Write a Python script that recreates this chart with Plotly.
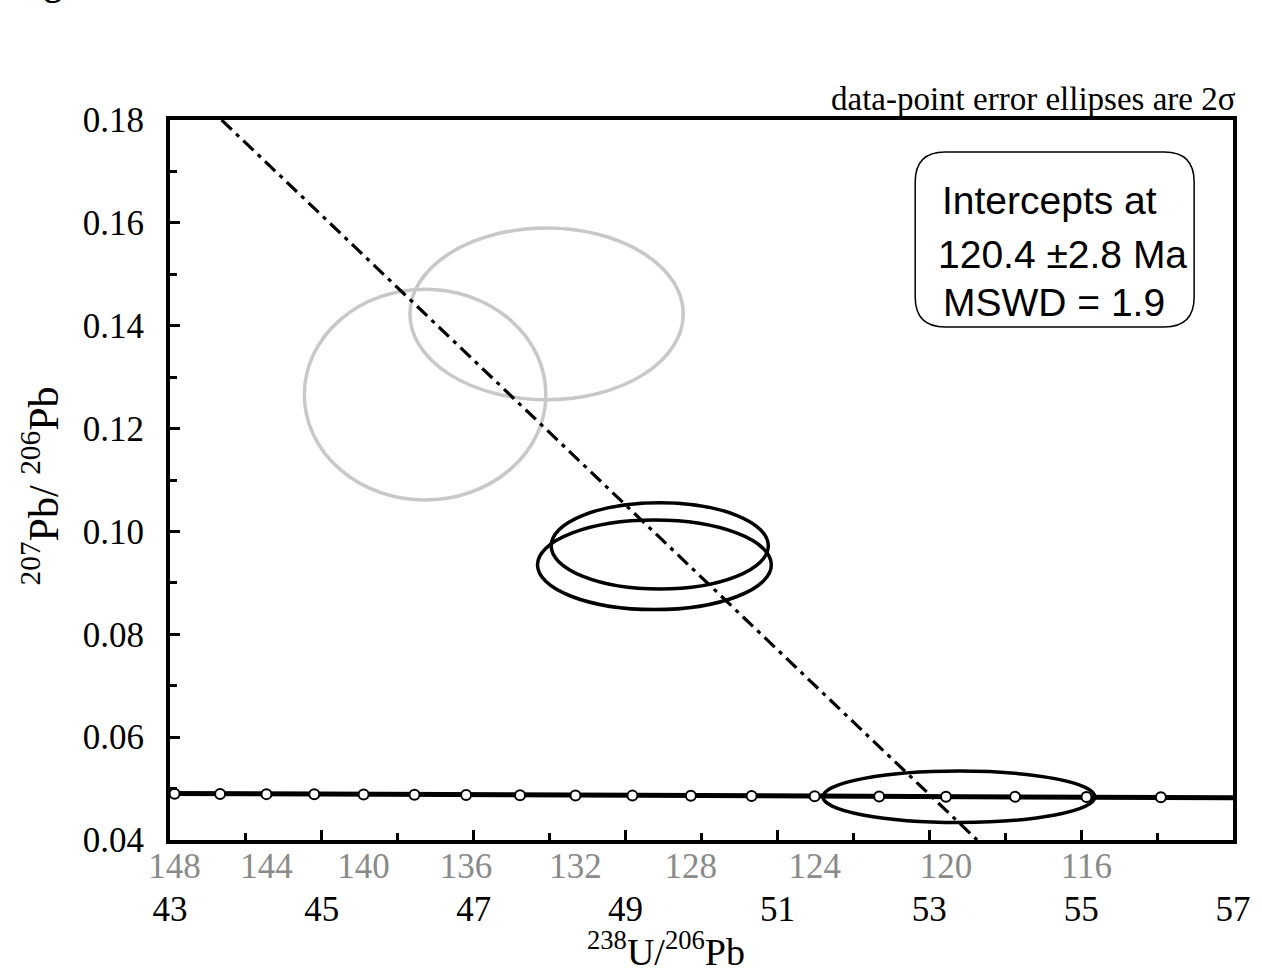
import plotly.graph_objects as go

# ---------------- data ----------------
# concordia ages (Ma) marked by white dots, and their positions (238U/206Pb, 207Pb/206Pb)
conc_age = [148, 146, 144, 142, 140, 138, 136, 134, 132, 130, 128, 126, 124, 122, 120, 118, 116, 114]
conc_x = [43.06, 43.66, 44.27, 44.90, 45.55, 46.22, 46.90, 47.61, 48.34, 49.09, 49.86, 50.66,
          51.49, 52.34, 53.22, 54.13, 55.07, 56.05]
conc_y = [0.04900, 0.04896, 0.04892, 0.04888, 0.04884, 0.04880, 0.04876, 0.04871, 0.04867,
          0.04863, 0.04859, 0.04855, 0.04851, 0.04847, 0.04843, 0.04839, 0.04834, 0.04830]
# concordia curve ends at the plot edges
conc_line_x = [43.0, 57.0]
conc_line_y = [0.04905, 0.04821]

# age tick labels (grey) on the concordia
age_labels = [148, 144, 140, 136, 132, 128, 124, 120, 116]
age_label_x = [43.06, 44.27, 45.55, 46.90, 48.34, 49.86, 51.49, 53.22, 55.07]

# discordia (regression) line
disc_x = [43.68, 53.63]
disc_y = [0.18, 0.04]

# 2-sigma error ellipses: centre, half-widths, colour
ell_cx = [47.96, 46.36, 49.45, 49.38, 53.39]
ell_cy = [0.1423, 0.1266, 0.0972, 0.0935, 0.0484]
ell_rx = [1.80, 1.59, 1.43, 1.54, 1.79]
ell_ry = [0.0167, 0.0205, 0.0084, 0.0087, 0.0050]
ell_col = ["#c8c8c8", "#c8c8c8", "black", "black", "black"]

x_ticks = [43, 45, 47, 49, 51, 53, 55, 57]
y_ticks = [0.04, 0.06, 0.08, 0.10, 0.12, 0.14, 0.16, 0.18]

SERIF = "Liberation Serif"
SANS = "Liberation Sans"

fig = go.Figure()

fig.add_trace(go.Scatter(x=disc_x, y=disc_y, mode="lines",
                         line=dict(color="black", width=3.2, dash="14px,6px,4px,6px"),
                         hoverinfo="skip", showlegend=False))
fig.add_trace(go.Scatter(x=conc_line_x, y=conc_line_y, mode="lines",
                         line=dict(color="black", width=5),
                         hoverinfo="skip", showlegend=False))
fig.add_trace(go.Scatter(x=conc_x, y=conc_y, mode="markers", xaxis="x2",
                         marker=dict(color="white", size=10, line=dict(color="black", width=2)),
                         text=[str(a) for a in conc_age], showlegend=False))

for cx, cy, rx, ry, col in zip(ell_cx, ell_cy, ell_rx, ell_ry, ell_col):
    fig.add_shape(type="circle", xref="x", yref="y",
                  x0=cx - rx, x1=cx + rx, y0=cy - ry, y1=cy + ry,
                  line=dict(color=col, width=3.5), layer="below")

# rounded legend box (pixel geometry converted to paper coords)
L, R, T, B = 170, 1237, 120, 840
W, H = R - L, B - T
def px(xp): return (xp - L) / W
def py(yp): return (B - yp) / H
bx0, bx1, by0, by1, rr = 918, 1198, 152, 327, 30
path = (f"M {px(bx0+rr)},{py(by0)} L {px(bx1-rr)},{py(by0)} "
        f"Q {px(bx1)},{py(by0)} {px(bx1)},{py(by0+rr)} "
        f"L {px(bx1)},{py(by1-rr)} Q {px(bx1)},{py(by1)} {px(bx1-rr)},{py(by1)} "
        f"L {px(bx0+rr)},{py(by1)} Q {px(bx0)},{py(by1)} {px(bx0)},{py(by1-rr)} "
        f"L {px(bx0)},{py(by0+rr)} Q {px(bx0)},{py(by0)} {px(bx0+rr)},{py(by0)} Z")
fig.add_shape(type="path", xref="paper", yref="paper", path=path,
              line=dict(color="black", width=1.5), fillcolor="white", layer="above")

for txt, xp, yp in [("Intercepts at", 1053, 200), ("120.4 \u00b12.8 Ma", 1066, 254),
                    ("MSWD = 1.9", 1057, 302)]:
    fig.add_annotation(x=px(xp), y=py(yp), xref="paper", yref="paper", text=txt,
                       showarrow=False, font=dict(family=SANS, size=39, color="black"),
                       xanchor="center", yanchor="middle")

fig.add_annotation(x=px(1242), y=py(99), xref="paper", yref="paper",
                   text="data-point error ellipses are 2\u03c3", showarrow=False,
                   font=dict(family=SERIF, size=33, color="black"),
                   xanchor="right", yanchor="middle")

fig.add_annotation(x=px(668), y=py(949), xref="paper", yref="paper",
                   text="<sup>238</sup>U/<sup>206</sup>Pb", showarrow=False,
                   font=dict(family=SERIF, size=38, color="black"),
                   xanchor="center", yanchor="middle", borderpad=0)
fig.add_annotation(x=px(40), y=py(486), xref="paper", yref="paper", textangle=-90,
                   text="<sup>207</sup>Pb/ <sup>206</sup>Pb", showarrow=False,
                   font=dict(family=SERIF, size=42, color="black"),
                   xanchor="center", yanchor="middle")
fig.add_annotation(x=px(64), y=py(5), xref="paper", yref="paper",
                   text="<b>Fig</b>", showarrow=False,
                   font=dict(family=SERIF, size=36, color="black"),
                   xanchor="right", yanchor="bottom")

fig.update_layout(
    width=1263, height=978,
    margin=dict(l=L, r=1263 - R, t=T, b=978 - B),
    paper_bgcolor="white", plot_bgcolor="white",
    showlegend=False,
    xaxis=dict(range=[43, 57], tickmode="array", tickvals=x_ticks,
               ticktext=[str(v) for v in x_ticks],
               ticks="inside", ticklen=10, tickwidth=3, tickcolor="black",
               minor=dict(ticks="inside", ticklen=7, tickwidth=3, tickcolor="black",
                          tickmode="linear", tick0=43, dtick=1),
               showline=True, linewidth=4, linecolor="black", mirror=True,
               showgrid=False, zeroline=False, ticklabelstandoff=35,
               tickfont=dict(family=SERIF, size=35, color="black")),
    xaxis2=dict(range=[43, 57], overlaying="x", side="bottom", anchor="y",
                matches="x", tickmode="array", tickvals=age_label_x,
                ticktext=[str(a) for a in age_labels], ticks="",
                showline=False, showgrid=False, zeroline=False, ticklabelstandoff=2,
                tickfont=dict(family=SERIF, size=35, color="#8a8a8a")),
    yaxis=dict(range=[0.04, 0.18], tickmode="array", tickvals=y_ticks,
               ticktext=[f"{v:.2f}" for v in y_ticks],
               ticks="inside", ticklen=10, tickwidth=3, tickcolor="black",
               minor=dict(ticks="inside", ticklen=7, tickwidth=3, tickcolor="black",
                          tickmode="linear", tick0=0.04, dtick=0.01),
               showline=True, linewidth=4, linecolor="black", mirror=True,
               showgrid=False, zeroline=False, ticklabelstandoff=15,
               tickfont=dict(family=SERIF, size=35, color="black")),
)

fig.write_html("out.html")
